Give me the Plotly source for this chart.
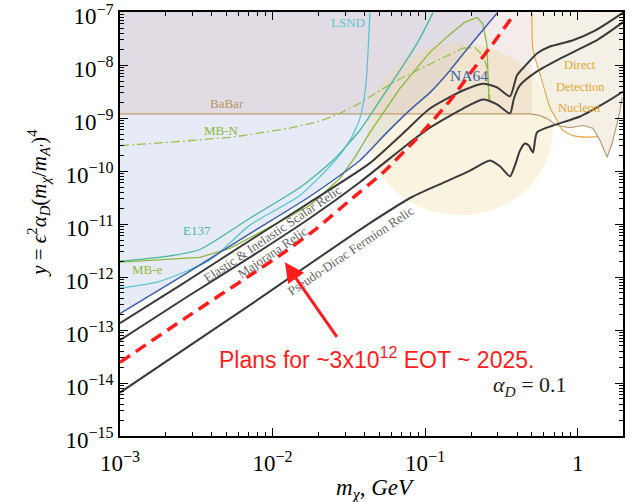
import numpy as np
import plotly.graph_objects as go

# All curves are given as log10(m_chi / GeV) and log10(y) pairs.

# Projection for ~3x10^12 electrons on target (red dashed)
proj_lgm = [-3.00, -2.575, -2.149, -1.932, -1.710, -1.493, -1.277, -1.054, -0.837, -0.706, -0.575, -0.411]
proj_lgy = [-13.61, -12.78, -11.97, -11.55, -11.08, -10.55, -10.03, -9.38, -8.67, -8.16, -7.67, -7.02]

# Thermal relic targets
scalar_lgm = [-3.00, -2.575, -2.149, -1.756, -1.362, -1.146, -0.969, -0.752, -0.621, -0.529, -0.444,
              -0.398, -0.346, -0.267, -0.182, -0.031, 0.113, 0.297]
scalar_lgy = [-12.87, -12.10, -11.31, -10.59, -9.85, -9.29, -8.82, -8.48, -8.35, -8.42, -8.59,
              -8.19, -8.02, -7.78, -7.65, -7.53, -7.35, -7.01]

majorana_lgm = [-3.00, -2.575, -2.149, -1.756, -1.428, -1.100, -0.969, -0.752, -0.621, -0.529, -0.444,
                -0.418, -0.378, -0.267, -0.097, 0.126, 0.297]
majorana_lgy = [-13.19, -12.40, -11.63, -10.89, -10.21, -9.46, -9.18, -8.82, -8.65, -8.74, -8.91,
                -8.63, -8.38, -8.12, -7.85, -7.53, -7.19]

pdirac_lgm = [-3.00, -2.149, -1.382, -1.080, -0.857, -0.706, -0.575, -0.510, -0.444, -0.411, -0.378,
              -0.346, -0.320, -0.293, -0.267, -0.162, 0.015, 0.192, 0.297]
pdirac_lgy = [-14.18, -12.53, -11.02, -10.48, -10.19, -9.99, -9.80, -9.91, -10.10, -9.89, -9.61,
              -9.48, -9.52, -9.65, -9.27, -9.14, -8.97, -8.69, -8.50]

# Existing limits
na64_lgm = [-3.00, -2.575, -2.149, -1.756, -1.428, -1.250, -1.100, -0.969, -0.837, -0.706, -0.608, -0.529]
na64_lgy = [-12.69, -11.95, -11.18, -10.48, -9.80, -9.27, -8.85, -8.52, -8.10, -7.63, -7.29, -7.02]

lsnd_lgm = [-3.00, -2.739, -2.411, -2.149, -1.821, -1.605, -1.493, -1.428, -1.389, -1.362]
lsnd_lgy = [-12.21, -12.08, -11.68, -11.02, -10.46, -9.85, -9.42, -9.01, -8.38, -7.01]

e137_lgm = [-3.00, -2.693, -2.477, -2.149, -1.821, -1.605, -1.428, -1.297, -1.165, -1.035, -0.949]
e137_lgy = [-11.70, -11.61, -11.48, -10.89, -10.31, -9.80, -9.23, -8.67, -8.10, -7.50, -7.01]

mbe_lgm = [-3.00, -2.693, -2.477, -2.280, -2.083, -1.756, -1.559, -1.461, -1.362, -1.165, -0.969,
           -0.837, -0.739, -0.660, -0.621, -0.595, -0.582]
mbe_lgy = [-11.72, -11.67, -11.63, -11.46, -11.16, -10.65, -10.14, -9.74, -9.27, -8.44, -7.76,
           -7.42, -7.19, -7.10, -7.23, -7.63, -8.67]

mbn_lgm = [-3.00, -2.693, -2.260, -1.887, -1.690, -1.559, -1.428, -1.297, -1.146, -0.923, -0.752,
           -0.673, -0.621, -0.595, -0.582, -0.575]
mbn_lgy = [-9.52, -9.46, -9.36, -9.19, -9.06, -8.91, -8.72, -8.48, -8.23, -7.91, -7.68,
           -7.67, -7.82, -8.04, -8.38, -8.67]

babar_lgm = [-3.00, -0.313]
babar_lgy = [-8.92, -8.92]

# Direct detection (nucleon) boundaries
dd_low_lgm = [-0.313, -0.250, -0.202, -0.136, -0.051, 0.035, 0.100, 0.146, 0.192, 0.225, 0.258, 0.277, 0.290]
dd_low_lgy = [-8.92, -8.95, -9.01, -9.14, -9.18, -9.14, -9.19, -9.42, -9.74, -9.48, -9.10, -8.86, -8.61]
dd_edge_lgm = [-0.300, -0.293, -0.248, -0.182, -0.136, -0.097, -0.031, 0.061, 0.126]
dd_edge_lgy = [-7.01, -7.72, -8.16, -8.80, -9.04, -9.23, -9.33, -9.36, -9.35]

# Highlighted region (ellipse in log-log space): centre and half-widths in decades
blob_center = (-0.772, -9.213)
blob_half = (0.610, 1.623)

X_MIN, X_MAX = -3.0, 0.2967
Y_MIN, Y_MAX = -15.0, -7.0


def lin(v):
    return 10 ** np.asarray(v, dtype=float)


fig = go.Figure()


def add_fill(lgm, lgy, color):
    fig.add_trace(go.Scatter(x=lin(lgm), y=lin(lgy), mode="lines", fill="toself",
                             fillcolor=color, line=dict(width=0), hoverinfo="skip",
                             showlegend=False))


# excluded region below the top edge, bounded by NA64
add_fill(na64_lgm + [na64_lgm[-1], X_MIN], na64_lgy + [Y_MAX, Y_MAX], "rgba(200,211,238,0.45)")
# BaBar
add_fill([X_MIN, -0.300, -0.300, X_MIN], [babar_lgy[0], babar_lgy[0], Y_MAX, Y_MAX], "rgba(212,174,170,0.25)")
# direct detection
dd_poly_m = dd_edge_lgm[:5] + dd_low_lgm[4:] + [X_MAX, X_MAX]
dd_poly_y = dd_edge_lgy[:5] + dd_low_lgy[4:] + [dd_low_lgy[-1], Y_MAX]
add_fill(dd_poly_m, dd_poly_y, "rgba(222,208,178,0.32)")

# highlighted ellipse
t = np.linspace(0, 2 * np.pi, 181)
add_fill(list(blob_center[0] + blob_half[0] * np.cos(t)),
         list(blob_center[1] + blob_half[1] * np.sin(t)), "rgba(238,215,150,0.30)")


def add_line(lgm, lgy, color, width=1.3, dash="solid", smooth=True):
    shape = dict(shape="spline", smoothing=0.6) if smooth else dict(shape="linear")
    fig.add_trace(go.Scatter(x=lin(lgm), y=lin(lgy), mode="lines",
                             line=dict(color=color, width=width, dash=dash, **shape),
                             hoverinfo="skip", showlegend=False))


add_line(babar_lgm, babar_lgy, "#c29c6c", 1.3)
add_line(dd_low_lgm, dd_low_lgy, "#b99a7a", 1.2, smooth=False)
add_line(dd_edge_lgm, dd_edge_lgy, "#e6a94a", 1.2)
add_line(mbn_lgm, mbn_lgy, "#9cc052", 1.3, "9px,3px,2px,3px", smooth=False)
add_line(lsnd_lgm, lsnd_lgy, "#5cc4d0", 1.3)
add_line(e137_lgm, e137_lgy, "#45b89c", 1.3)
add_line(mbe_lgm, mbe_lgy, "#8cb83c", 1.3, smooth=False)
add_line(na64_lgm, na64_lgy, "#3c5ea6", 1.5)
add_line(scalar_lgm, scalar_lgy, "#3a3a3a", 2)
add_line(majorana_lgm, majorana_lgy, "#3a3a3a", 2)
add_line(pdirac_lgm, pdirac_lgy, "#3a3a3a", 2)
add_line(proj_lgm, proj_lgy, "#ff1c1c", 3.5, "12px,7px")

SERIF = "Liberation Serif, Times New Roman, serif"

minor_x = [k * 10.0 ** e for e in range(-3, 1) for k in range(2, 10)]
minor_y = [k * 10.0 ** e for e in range(-15, -7) for k in range(2, 10)]

x_ticks = [1e-3, 1e-2, 1e-1, 1]
x_text = ["10<sup>−3</sup>", "10<sup>−2</sup>", "10<sup>−1</sup>", "1"]
y_ticks = [10.0 ** e for e in range(-15, -6)]
y_text = ["10<sup>−%d</sup>" % (-e) for e in range(-15, -6)]

axis_common = dict(type="log", showgrid=False, zeroline=False, showline=True, linecolor="black",
                   linewidth=1.5, mirror="allticks", ticks="inside", ticklen=8, tickwidth=1,
                   tickcolor="black", ticklabeloverflow="allow", automargin=False,
                   tickfont=dict(family=SERIF, size=23, color="black"))

fig.update_xaxes(range=[X_MIN, X_MAX], tickmode="array", tickvals=x_ticks, ticktext=x_text,
                 ticklabelstandoff=6,
                 minor=dict(tickmode="array", tickvals=minor_x, ticks="inside", ticklen=4,
                            tickcolor="black", showgrid=False),
                 **axis_common)
fig.update_yaxes(range=[Y_MIN, Y_MAX + 0.002], tickmode="array", tickvals=y_ticks, ticktext=y_text,
                 ticklabelshift=4,
                 minor=dict(tickmode="array", tickvals=minor_y, ticks="inside", ticklen=4,
                            tickcolor="black", showgrid=False),
                 **axis_common)


def label(lgm, lgy, text, color, size=13, angle=0, family=SERIF):
    fig.add_annotation(x=lgm, y=lgy, xref="x", yref="y", text=text, showarrow=False,
                       textangle=angle, font=dict(family=family, size=size, color=color))


label(-2.300, -8.72, "BaBar", "#b8945c")
label(-2.332, -9.232, "MB-N", "#8ab640")
label(-1.506, -7.194, "LSND", "#5cc4d0")
label(-2.495, -11.119, "E137", "#45b89c")
label(-2.818, -11.855, "MB-e", "#8cb83c")
label(-0.713, -8.194, "NA64", "#3c5ea6", size=15.5)
label(0.012, -8.006, "Direct", "#e0a830", 12.5)
label(0.015, -8.421, "Detection", "#e0a830", 12.5)
label(0.012, -8.817, "Nucleon", "#e0a830", 12.5)
label(-1.998, -11.175, "Elastic &amp; Inelastic Scalar Relic", "#666666", 13, -34)
label(-2.003, -11.534, "Majorana Relic", "#666666", 13, -34)
label(-1.487, -11.496, "Pseudo-Dirac Fermion Relic", "#666666", 13, -34)
label(-0.313, -14.05, "<i>α</i><sub><i>D</i></sub> = 0.1", "#222222", 22)
label(-1.316, -13.52, "Plans for ~3x10<sup>12</sup> EOT ~ 2025.", "#ff1c1c", 23,
      family="Liberation Sans, Arial, sans-serif")

# arrow pointing at the projected reach
fig.add_annotation(x=-1.919, y=-11.723, xref="x", yref="y", ax=53, ay=76, text="",
                   showarrow=True, arrowhead=2, arrowsize=1.3, arrowwidth=3, arrowcolor="#ff1c1c")

# axis titles
fig.add_annotation(x=-0.161, y=0.55, xref="paper", yref="paper", showarrow=False, textangle=-90,
                   xanchor="center", yanchor="middle",
                   text="<i>y</i> = <i>ϵ</i><sup>2</sup><i>α</i><sub><i>D</i></sub>(<i>m</i><sub><i>χ</i></sub>/<i>m</i><sub><i>A</i>′</sub>)<sup>4</sup>",
                   font=dict(family=SERIF, size=21, color="black"))
fig.add_annotation(x=0.507, y=-0.125, xref="paper", yref="paper", showarrow=False,
                   xanchor="center", yanchor="middle",
                   text="<i>m</i><sub><i>χ</i></sub>, <i>GeV</i>",
                   font=dict(family=SERIF, size=23, color="black"))

fig.update_layout(width=630, height=502, margin=dict(l=120, r=7, t=12, b=66, autoexpand=False),
                  paper_bgcolor="white", plot_bgcolor="white", showlegend=False)

fig.write_html("out.html")
